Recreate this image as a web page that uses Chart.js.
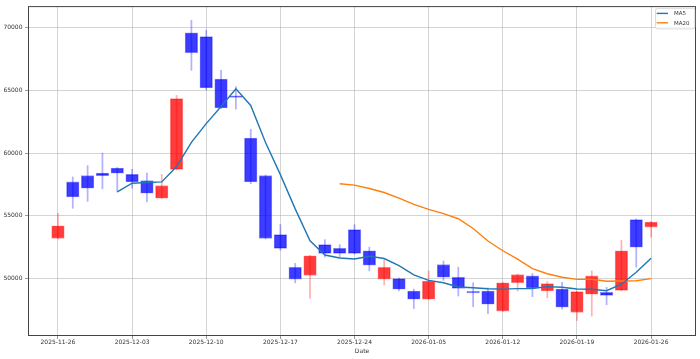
<!DOCTYPE html>
<html><head><meta charset="utf-8">
<script src="https://cdn.jsdelivr.net/npm/chart.js@4.4.1/dist/chart.umd.min.js"></script>
<style>html,body{margin:0;padding:0;background:#fff;overflow:hidden}</style>
</head><body>
<canvas id="c" width="700" height="359" style="display:block;width:700px;height:359px"></canvas>
<script>
const dates = ['2025-11-26','2025-11-27','2025-11-28','2025-12-01','2025-12-02','2025-12-03','2025-12-04','2025-12-05','2025-12-08','2025-12-09',
  '2025-12-10','2025-12-11','2025-12-12','2025-12-15','2025-12-16','2025-12-17','2025-12-18','2025-12-19','2025-12-22','2025-12-23',
  '2025-12-24','2025-12-26','2025-12-29','2025-12-30','2026-01-02','2026-01-05','2026-01-06','2026-01-07','2026-01-08','2026-01-09',
  '2026-01-12','2026-01-13','2026-01-14','2026-01-15','2026-01-16','2026-01-19','2026-01-20','2026-01-21','2026-01-22','2026-01-23','2026-01-26'];
const openP  = [53200,57700,58200,58400,58800,58300,57800,56400,58700,69600,69300,65900,64500,61200,58200,53500,50900,50250,52700,52400,53900,52200,49950,50000,49000,48350,51100,50100,48900,49000,47400,49650,50200,49000,49150,47300,48750,48900,49050,54700,54100];
const highP  = [55200,58100,59000,60000,58850,58700,58400,58300,64600,70600,69800,66600,65300,61900,58250,54300,51200,51850,53100,52700,54300,52500,51500,50050,49150,50600,51400,50900,49650,49250,49700,50350,50400,49750,49700,49000,50600,49300,53050,54750,54550];
const lowP   = [53150,55600,56150,57150,56900,57200,56100,56350,58650,66600,65050,63550,63500,57550,53150,52250,49650,48400,51700,51650,51950,50600,49500,49000,47600,48300,49850,48600,47750,47200,47350,49000,48550,48450,47550,46650,47000,47900,49000,50900,53300];
const closeP = [54200,56500,57200,58200,58400,57700,56800,57400,64350,68000,65200,63600,64450,57700,53200,52400,49950,51800,52000,52000,52000,51050,50900,49150,48350,49800,50100,49200,48850,47950,49650,50300,49250,49600,47700,48950,50200,48650,52200,52500,54500];
const ma5  = [null,null,null,null,56900,57600,57660,57700,58930,60850,62350,63710,65130,63800,60840,58280,55550,53010,51870,51630,
  51550,51770,51590,51020,50290,49850,49660,49320,49260,49180,49150,49190,49200,49350,49300,49160,49140,49020,49540,50500,51610];
const ma20 = [null,null,null,null,null,null,null,null,null,null,null,null,null,null,null,null,null,null,null,57555,
  57445,57173,56858,56405,55903,55508,55173,54763,53988,52985,52208,51543,50780,50375,50100,49928,49940,49783,49793,49818,49990];
const xTickIdx = [0,5,10,15,20,25,30,35,40];
const yTicks = [50000,55000,60000,65000,70000];

const UP = 'rgba(255,0,0,0.76)', DOWN = 'rgba(0,0,255,0.76)';
const UP_EDGE = 'rgba(255,0,0,0.4)', DOWN_EDGE = 'rgba(0,0,255,0.4)';
const UP_WICK = 'rgba(255,0,0,0.3)', DOWN_WICK = 'rgba(0,0,255,0.3)';
const isUp = i => closeP[i] >= openP[i];

const bodies = dates.map((d, i) => ({x: i, y: [openP[i], closeP[i]]}));
const wicks  = dates.map((d, i) => ({x: i, y: [lowP[i], highP[i]]}));
const ma5Pts  = dates.map((d, i) => ({x: i, y: ma5[i]}));
const ma20Pts = dates.map((d, i) => ({x: i, y: ma20[i]}));

Chart.defaults.font.family = "'DejaVu Sans', sans-serif";
Chart.defaults.color = '#333';

const frameLegend = {
  id: 'frameLegend',
  afterDraw(chart) {
    const {ctx, chartArea: a} = chart;
    ctx.save();
    ctx.strokeStyle = '#444';
    ctx.lineWidth = 1;
    ctx.strokeRect(a.left + 0.5, a.top + 0.5, a.right - a.left - 1, a.bottom - a.top - 1);
    const bx = a.right - 41, by = a.top + 1.7, bw = 39.3, bh = 20.6;
    ctx.beginPath();
    ctx.roundRect(bx + 0.5, by + 0.5, bw, bh, 2);
    ctx.fillStyle = 'rgba(255,255,255,0.8)';
    ctx.fill();
    ctx.strokeStyle = '#d0d0d0';
    ctx.lineWidth = 0.8;
    ctx.stroke();
    const items = chart.data.datasets.filter(ds => ds.type === 'line');
    ctx.font = "5.5px 'DejaVu Sans'";
    ctx.textBaseline = 'middle';
    ctx.textAlign = 'left';
    items.forEach((ds, k) => {
      const y = by + 5.6 + k * 9.4;
      ctx.strokeStyle = ds.borderColor;
      ctx.lineWidth = 1.4;
      ctx.beginPath();
      ctx.moveTo(bx + 1.7, y);
      ctx.lineTo(bx + 13, y);
      ctx.stroke();
      ctx.fillStyle = '#333';
      ctx.fillText(ds.label, bx + 19, y + 0.3);
    });
    ctx.restore();
  }
};

new Chart(document.getElementById('c'), {
  type: 'bar',
  data: {
    datasets: [
      {type: 'line', label: 'MA5', data: ma5Pts, borderColor: '#1f77b4', borderWidth: 1.4,
        pointRadius: 0, tension: 0, fill: false, order: 0},
      {type: 'line', label: 'MA20', data: ma20Pts, borderColor: '#ff7f0e', borderWidth: 1.4,
        pointRadius: 0, tension: 0, fill: false, order: 0},
      {type: 'bar', label: 'body', data: bodies, grouped: false, barThickness: 12.6, minBarLength: 1.5,
        backgroundColor: c => isUp(c.dataIndex) ? UP : DOWN,
        borderColor: c => isUp(c.dataIndex) ? UP_EDGE : DOWN_EDGE,
        borderWidth: 0.8, borderSkipped: false, order: 1},
      {type: 'bar', label: 'wick', data: wicks, grouped: false, barThickness: 1.1,
        backgroundColor: c => isUp(c.dataIndex) ? UP_WICK : DOWN_WICK,
        borderWidth: 0, order: 2}
    ]
  },
  options: {
    responsive: false,
    animation: false,
    devicePixelRatio: 1,
    layout: {padding: {top: 5, right: 4, left: 0, bottom: 0}},
    plugins: {legend: {display: false}, tooltip: {enabled: false}},
    scales: {
      x: {
        type: 'linear', offset: false, min: -2.02, max: 43.03,
        afterBuildTicks: s => { s.ticks = xTickIdx.map(v => ({value: v})); },
        afterFit: s => { s.height = 23; },
        ticks: {callback: v => dates[v], font: {size: 6}, padding: 0, maxRotation: 0, autoSkip: false},
        grid: {offset: false, color: 'rgba(170,170,170,0.5)', lineWidth: 1, drawTicks: true, tickLength: 3, tickColor: '#999'},
        border: {display: false},
        title: {display: true, text: 'Date', font: {size: 6}, padding: {top: 0, bottom: 4.4}}
      },
      y: {
        type: 'linear', min: 45410, max: 71725,
        afterBuildTicks: s => { s.ticks = yTicks.map(v => ({value: v})); },
        afterFit: s => { s.width = 28; },
        ticks: {callback: v => String(v), font: {size: 6}, padding: 2.5},
        grid: {color: 'rgba(170,170,170,0.5)', lineWidth: 1, drawTicks: true, tickLength: 3, tickColor: '#999'},
        border: {display: false}
      }
    }
  },
  plugins: [frameLegend]
});
</script>
</body></html>
